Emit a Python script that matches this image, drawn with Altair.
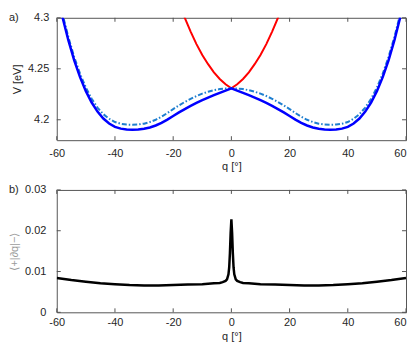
import altair as alt
import pandas as pd

# ---- data ----
q_pes = [-60, -58, -56, -54, -52, -50, -48, -46, -44, -42, -40, -38, -36, -34, -32, -30,
         -28, -26, -24, -22, -20, -18, -16, -14, -12, -10, -8, -6, -4, -2, 0,
         2, 4, 6, 8, 10, 12, 14, 16, 18, 20, 22, 24, 26, 28, 30,
         32, 34, 36, 38, 40, 42, 44, 46, 48, 50, 52, 54, 56, 58, 60]
v_lower = [4.3258, 4.3003, 4.2778, 4.2583, 4.2418, 4.2281, 4.2169, 4.2080, 4.2012, 4.1963,
           4.1931, 4.1913, 4.1905, 4.1903, 4.1905, 4.1912, 4.1925, 4.1944, 4.1970, 4.2002,
           4.2037, 4.2072, 4.2105, 4.2136, 4.2165, 4.2192, 4.2217, 4.2241, 4.2264, 4.2286,
           4.2308,
           4.2286, 4.2264, 4.2241, 4.2217, 4.2192, 4.2165, 4.2136, 4.2105, 4.2072, 4.2037,
           4.2002, 4.1970, 4.1944, 4.1925, 4.1912, 4.1905, 4.1903, 4.1905, 4.1913, 4.1931,
           4.1963, 4.2012, 4.2080, 4.2169, 4.2281, 4.2418, 4.2583, 4.2778, 4.3003, 4.3258]
v_mid = [4.3288, 4.3034, 4.2810, 4.2616, 4.2452, 4.2316, 4.2206, 4.2120, 4.2055, 4.2010,
         4.1978, 4.1961, 4.1953, 4.1951, 4.1954, 4.1962, 4.1978, 4.2000, 4.2030, 4.2066,
         4.2105, 4.2141, 4.2175, 4.2205, 4.2233, 4.2256, 4.2275, 4.2290, 4.2301, 4.2306,
         4.2308,
         4.2306, 4.2301, 4.2290, 4.2275, 4.2256, 4.2233, 4.2205, 4.2175, 4.2141, 4.2105,
         4.2066, 4.2030, 4.2000, 4.1978, 4.1962, 4.1954, 4.1951, 4.1953, 4.1961, 4.1978,
         4.2010, 4.2055, 4.2120, 4.2206, 4.2316, 4.2452, 4.2616, 4.2810, 4.3034, 4.3288]
q_up = [-18, -16, -14, -12, -10, -8, -6, -4, -2, 0, 2, 4, 6, 8, 10, 12, 14, 16, 18]
v_upper = [4.318, 4.300, 4.2865, 4.2742, 4.2635, 4.2545, 4.2465, 4.2400, 4.2348, 4.2308,
           4.2348, 4.2400, 4.2465, 4.2545, 4.2635, 4.2742, 4.2865, 4.300, 4.318]

q_nac = [-60, -55, -50, -45, -40, -35, -30, -25, -20, -15, -10, -6, -4, -3, -2, -1.5, -1,
         -0.75, -0.5, -0.25, 0, 0.25, 0.5, 0.75, 1, 1.5, 2, 3, 4, 6, 10, 15, 20, 25, 30,
         35, 40, 45, 50, 55, 60]
nac = [0.0084, 0.0079, 0.0075, 0.0071, 0.0069, 0.0067, 0.0066, 0.0066, 0.0067, 0.0068,
       0.0069, 0.0071, 0.0072, 0.0074, 0.0077, 0.0081, 0.0093, 0.0110, 0.0145, 0.0195,
       0.0228, 0.0195, 0.0145, 0.0110, 0.0093, 0.0081, 0.0077, 0.0074, 0.0072, 0.0071,
       0.0069, 0.0068, 0.0067, 0.0066, 0.0066, 0.0067, 0.0069, 0.0071, 0.0075, 0.0079,
       0.0084]

x_ticks = [-60, -40, -20, 0, 20, 40, 60]
v_ticks = [4.2, 4.25, 4.3]
nac_ticks = [0, 0.01, 0.02, 0.03]

W, H = 351, 123
TICK = 4
FRAME = "#555555"
TXT = "#262626"

df_low = pd.DataFrame({"q": q_pes, "v": v_lower})
df_mid = pd.DataFrame({"q": q_pes, "v": v_mid})
df_up = pd.DataFrame({"q": q_up, "v": v_upper})
df_nac = pd.DataFrame({"q": q_nac, "v": nac})


def panel(lines, yticks, ydomain, ytitle, ytitle_color, xlabpad, xtitlepad, ylabpad,
          ytitlepad, tag):
    xs = alt.Scale(domain=[-60, 60], nice=False, zero=False)
    ys = alt.Scale(domain=ydomain, nice=False, zero=False)
    xaxis = alt.Axis(values=x_ticks, ticks=False, domain=False, grid=False,
                     labelPadding=xlabpad, titlePadding=xtitlepad,
                     labelExpr="'' + datum.value", labelFlush=False,
                     labelAlign=alt.expr("datum.value == 60 ? 'right' : 'center'"))
    yaxis = alt.Axis(values=yticks, ticks=False, domain=False, grid=False,
                     labelPadding=ylabpad, titlePadding=ytitlepad,
                     labelExpr="'' + datum.value", titleColor=ytitle_color)
    X = alt.X("q:Q", scale=xs, axis=xaxis, title="q [°]")
    Y = alt.Y("v:Q", scale=ys, axis=yaxis, title=ytitle)

    layers = []
    for df, color, width, dash in lines:
        kw = {"clip": True, "color": color, "strokeWidth": width}
        if dash:
            kw["strokeDash"] = dash
        layers.append(alt.Chart(df).mark_line(**kw).encode(x=X, y=Y))

    dfx = pd.DataFrame({"q": x_ticks})
    dfy = pd.DataFrame({"v": yticks})
    rk = {"color": FRAME, "strokeWidth": 1}
    layers.append(alt.Chart(dfx).mark_rule(**rk).encode(x=X, y=alt.value(H), y2=alt.value(H - TICK)))
    layers.append(alt.Chart(dfx).mark_rule(**rk).encode(x=X, y=alt.value(0), y2=alt.value(TICK)))
    layers.append(alt.Chart(dfy).mark_rule(**rk).encode(y=Y, x=alt.value(0), x2=alt.value(TICK)))
    layers.append(alt.Chart(dfy).mark_rule(**rk).encode(y=Y, x=alt.value(W - TICK), x2=alt.value(W)))
    layers.append(
        alt.Chart(pd.DataFrame({"t": [tag]})).mark_text(
            align="left", baseline="middle", fontSize=11, font="Liberation Sans", color=TXT
        ).encode(text="t:N", x=alt.value(-48), y=alt.value(0))
    )
    return alt.layer(*layers).properties(width=W, height=H)


top = panel(
    [(df_up, "#ff0000", 2, None),
     (df_mid, "#1f7fd0", 2, [5, 2, 1.5, 2]),
     (df_low, "#0000ff", 2.5, None)],
    v_ticks, [4.18, 4.3], "V [eV]", TXT, 7, 2, 8, 5, "a)")

bottom = panel(
    [(df_nac, "#000000", 2.5, None)],
    nac_ticks, [0, 0.03], "⟨+|∂q|−⟩", "#9a9a9a", 4, 3, 11, 5, "b)")

chart = alt.vconcat(top, bottom, spacing=11).properties(
    padding={"left": 0, "top": 2, "right": 0, "bottom": 0}
).configure_view(
    stroke=FRAME, strokeWidth=1
).configure_axis(
    labelFont="Liberation Sans", labelFontSize=11, labelColor=TXT,
    titleFont="Liberation Sans", titleFontSize=11, titleFontWeight="normal", titleColor=TXT
)

chart.save("out.html", embed_options={"renderer": "svg", "actions": False})
